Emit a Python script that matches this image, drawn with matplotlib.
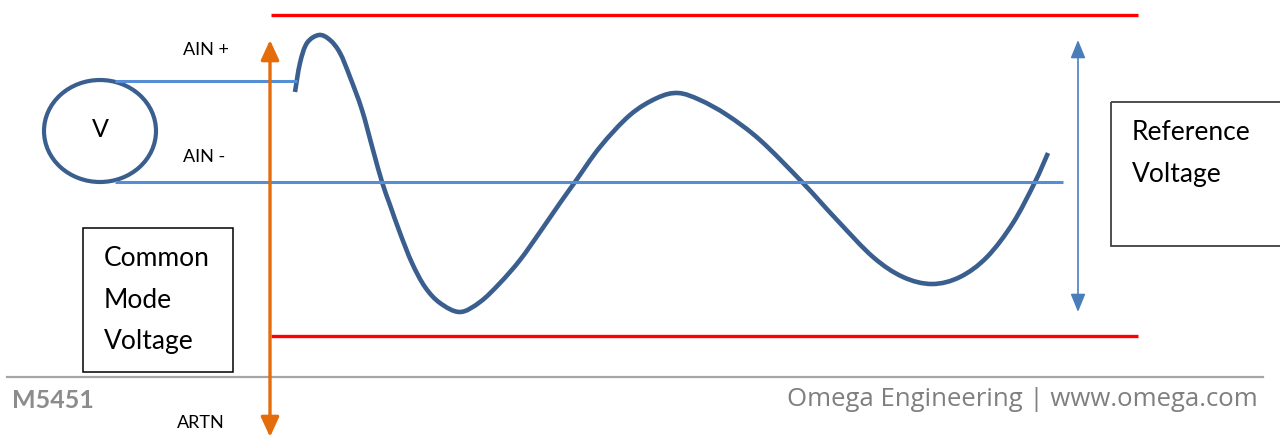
import matplotlib
matplotlib.use('Agg')
import matplotlib.pyplot as plt
from matplotlib.patches import Ellipse, Rectangle, PathPatch
from matplotlib.path import Path

plt.rcParams['font.family'] = ['Lato', 'DejaVu Sans']

# signal curve (pixel coords, y grows down)
wave_x = [295, 300, 307, 319, 330, 340, 350, 362, 373, 382, 390, 400, 412, 425,
          440, 460, 480, 500, 520, 540, 560, 575, 600, 630, 657, 678, 700, 727,
          760, 802, 837, 873, 903, 932, 960, 987, 1013, 1035, 1048]
wave_y = [92, 63, 43, 35, 40, 53, 77, 110, 150, 182, 205, 233, 263, 287,
          303, 312, 302, 283, 260, 232, 203, 182, 147, 115, 98, 93, 100, 115,
          140, 182, 220, 257, 277, 284, 277, 257, 223, 182, 153]

# rails / wires
rail_top = 15
rail_bottom = 336
rail_x = [271, 1138]
ain_plus_y = 81
ain_minus_y = 182

dark_blue = '#3A5F8E'
wire_blue = '#558ED5'
red = '#FF0000'
orange = '#E46C0A'
arrow_blue = '#4A7EBB'
grey = '#8C8C8C'


def smooth_path(xs, ys):
    # bezier segments through the read points (catmull-rom style handles)
    pts = list(zip(xs, ys))
    verts = [pts[0]]
    codes = [Path.MOVETO]
    for i in range(len(pts) - 1):
        p0 = pts[i - 1] if i > 0 else pts[i]
        p1 = pts[i]
        p2 = pts[i + 1]
        p3 = pts[i + 2] if i + 2 < len(pts) else pts[i + 1]
        c1 = (p1[0] + (p2[0] - p0[0]) / 6, p1[1] + (p2[1] - p0[1]) / 6)
        c2 = (p2[0] - (p3[0] - p1[0]) / 6, p2[1] - (p3[1] - p1[1]) / 6)
        verts += [c1, c2, p2]
        codes += [Path.CURVE4] * 3
    return Path(verts, codes)


fig = plt.figure(figsize=(12.8, 4.47), dpi=100)
ax = fig.add_axes([0, 0, 1, 1])
ax.set_xlim(0, 1280)
ax.set_ylim(447, 0)
ax.axis('off')

# red limits
ax.plot(rail_x, [rail_top, rail_top], color=red, lw=2.4, solid_capstyle='butt')
ax.plot(rail_x, [rail_bottom, rail_bottom], color=red, lw=2.4, solid_capstyle='butt')

# wires from source
ax.plot([115, 297], [ain_plus_y, ain_plus_y], color=wire_blue, lw=2.2, solid_capstyle='butt')
ax.plot([115, 1063], [ain_minus_y, ain_minus_y], color=wire_blue, lw=2.2, solid_capstyle='butt')

# voltage source
ax.add_patch(Ellipse((100, 131), 112, 102, fill=False, ec=dark_blue, lw=3))
ax.text(100, 137, 'V', fontsize=18, ha='center', va='baseline')

# signal
ax.add_patch(PathPatch(smooth_path(wave_x, wave_y), fill=False, ec=dark_blue,
                       lw=3.3, capstyle='butt', joinstyle='round'))

# common mode arrow
ax.annotate('', xy=(270, 40), xytext=(270, 437),
            arrowprops=dict(arrowstyle='<|-|>,head_length=1.2,head_width=0.55',
                            color=orange, lw=2.4, shrinkA=0, shrinkB=0))

# reference arrow
ax.annotate('', xy=(1078, 40), xytext=(1078, 312),
            arrowprops=dict(arrowstyle='<|-|>,head_length=1.1,head_width=0.45',
                            color=arrow_blue, lw=1.2, shrinkA=0, shrinkB=0))

# labels
ax.text(183, 55, 'AIN +', fontsize=13, va='baseline')
ax.text(183, 162, 'AIN -', fontsize=13, va='baseline')
ax.text(177, 428, 'ARTN', fontsize=13, va='baseline')

ax.add_patch(Rectangle((83, 228), 150, 144, fill=False, ec='black', lw=1.1))
for txt, yb in zip(['Common', 'Mode', 'Voltage'], [266, 308, 349]):
    ax.text(104, yb, txt, fontsize=19, va='baseline')

ax.add_patch(Rectangle((1111, 102), 200, 144, fill=False, ec='#404040', lw=1.3))
ax.text(1132, 140, 'Reference', fontsize=19, va='baseline')
ax.text(1132, 182, 'Voltage', fontsize=19, va='baseline')

# footer
ax.plot([7, 1263], [377, 377], color='#A6A6A6', lw=1.6)
ax.text(12, 408, 'M5451', fontsize=18, fontweight='bold', color=grey, va='baseline')
ax.text(1258, 406, 'Omega Engineering | www.omega.com', fontsize=18.5,
        family=['Open Sans', 'DejaVu Sans'], color='#7F7F7F',
        ha='right', va='baseline')

fig.savefig('out.png', dpi=100)
